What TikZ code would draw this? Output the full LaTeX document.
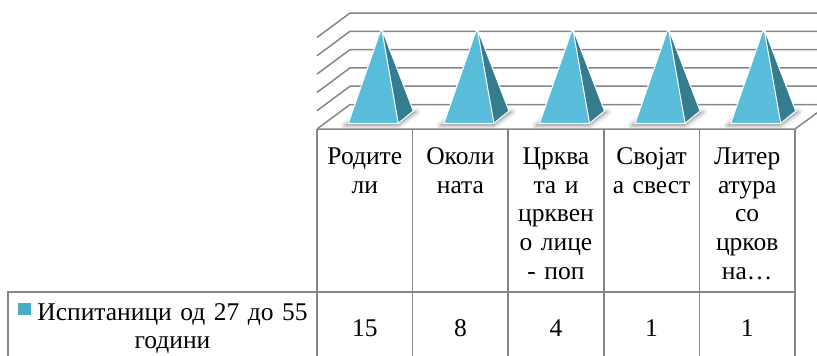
\documentclass[tikz,border=0pt]{standalone}
\usepackage{fontspec}
\setmainfont{Liberation Serif}
\usetikzlibrary{positioning}
\definecolor{gridgray}{RGB}{134,134,134}
\definecolor{pyrlight}{RGB}{87,189,218}
\definecolor{pyrdark}{RGB}{52,124,142}
\definecolor{legsq}{RGB}{75,172,198}

\begin{document}
\begin{tikzpicture}[x=1pt,y=-1pt,
  gridline/.style={draw=gridgray,line width=1.5pt},
  celltext/.style={anchor=base,text width=94pt,align=center,inner sep=0pt,
    font=\fontsize{25.5}{28.7}\selectfont}]
  \useasboundingbox (0,0) rectangle (817,356);
  \clip (0,0) rectangle (817,356);
  % back wall, side wall, floor
  \foreach \i in {0,...,5} {
    \pgfmathsetmacro\y{13+18.3*\i}
    \draw[gridline] (317,\y+24.5) -- (350,\y) -- (817,\y);
  }
  \draw[gridline] (317,129) -- (795,129) -- (819,111.5);
  % pyramids
  \foreach \i in {0,...,4} {
    \pgfmathsetmacro\c{365+95.6*\i}
    \foreach \w/\o in {9/0.08,6/0.12,3/0.2}
      \filldraw[gray,opacity=\o,line width=\w pt,line join=round]
        (\c-20,125.5) -- (\c+33,125.5) -- (\c+51,112) -- (\c-3,112) -- cycle;
    \fill[pyrdark] (\c+33.3,123.3) -- (\c+48.3,111) -- (\c+16.5,28) -- cycle;
    \fill[pyrlight] (\c-16.7,123.3) -- (\c+33.3,123.3) -- (\c+16.5,28) -- cycle;
    \draw[white,line width=1pt,line join=round]
      (\c-16.7,123.3) -- (\c+33.3,123.3) -- (\c+48.3,111) -- (\c+16.5,28) -- cycle
      (\c+33.3,123.3) -- (\c+16.5,28);
  }
  % data table
  \foreach \x in {317,412.6,508.2,603.8,699.4,795}
    \draw[gridline] (\x,129) -- (\x,356);
  \draw[gridline] (8,356) -- (8,292) -- (795,292);
  \foreach \t/\v [count=\i from 0] in {{Родите\\ли}/15,{Околи\\ната}/8,
      {Црква\\та и\\црквен\\о лице\\- поп}/4,{Своjат\\а свест}/1,
      {Литер\\атура\\со\\црков\\на…}/1} {
    \pgfmathsetmacro\c{364.8+95.6*\i}
    \node[celltext] (head\i) at (\c,164.5) {\t};
    \node[celltext] (val\i) at (\c,336.2) {\v};
  }
  \fill[legsq] (18.3,302.5) rectangle (30.7,315);
  \node[celltext,text width=285pt] (legend) at (172.5,320)
    {Испитаници од 27 до 55\\години};
\end{tikzpicture}
\end{document}
